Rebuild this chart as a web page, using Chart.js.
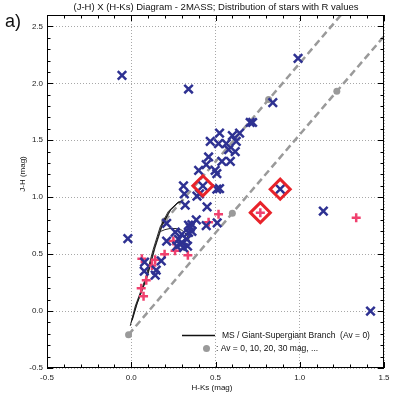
<!DOCTYPE html>
<html lang="en">
<head>
<meta charset="UTF-8">
<title>(J-H) X (H-Ks) Diagram - 2MASS</title>
<script src="https://cdn.jsdelivr.net/npm/chart.js"></script>
<style>
  html, body { margin: 0; padding: 0; background: #fff; }
  #wrap { width: 399px; height: 399px; position: relative; }
</style>
</head>
<body>
<div id="wrap"><canvas id="ccd"></canvas></div>
<script>
// stars, blue crosses (H-Ks, J-H)
const blueX = [-0.055, 0.34, 0.99, 0.84, 0.706, 0.72, 0.524, 0.60, 0.643, 0.623, 0.469, 0.518, 0.564, 0.578, 0.617,
  0.459, 0.538, 0.588, 0.40, 0.445, 0.498, 0.508, 0.31, 0.425, 0.524, 0.508, 0.315, 0.39, 0.405, 0.32, 0.45,
  0.884, 0.51, 0.445, 0.21, 0.386, 0.34, 0.36, 0.35, 0.261, 0.30, 0.34, 0.36, 0.281, 0.30, 0.33, 0.21, 0.29,
  0.27, 0.334, 0.31, 0.178, 0.079, 0.077, 0.148, 0.142, -0.02, 1.14, 1.42];
const blueY = [2.07, 1.95, 2.22, 1.83, 1.656, 1.656, 1.563, 1.54, 1.563, 1.49, 1.49, 1.47, 1.47, 1.417, 1.40,
  1.353, 1.315, 1.315, 1.236, 1.286, 1.236, 1.207, 1.10, 1.10, 1.076, 1.07, 1.03, 1.01, 1.03, 0.93, 0.915,
  1.07, 0.775, 0.75, 0.77, 0.80, 0.755, 0.76, 0.735, 0.694, 0.674, 0.69, 0.70, 0.63, 0.60, 0.63, 0.615, 0.586,
  0.57, 0.57, 0.557, 0.44, 0.43, 0.35, 0.36, 0.315, 0.636, 0.877, 0.0];

// stars, pink plus signs
const pinkX = [0.518, 0.459, 0.766, 1.335, 0.25, 0.26, 0.336, 0.198, 0.142, 0.063, 0.123, 0.089, 0.059, 0.073];
const pinkY = [0.85, 0.78, 0.864, 0.82, 0.615, 0.53, 0.49, 0.50, 0.45, 0.46, 0.40, 0.27, 0.20, 0.13];

// highlighted stars (red diamonds)
const markX = [0.425, 0.884, 0.766];
const markY = [1.10, 1.07, 0.864];

// intrinsic colours, MS / giant-supergiant branch (Av = 0)
const msX = [-0.006, 0.024, 0.083, 0.13, 0.172, 0.22, 0.273, 0.30];
const msY = [-0.13, 0.044, 0.28, 0.54, 0.74, 0.875, 0.95, 0.96];
const giantX = [0.0, 0.03, 0.09, 0.137, 0.18, 0.228, 0.28, 0.305];
const giantY = [-0.10, 0.05, 0.29, 0.55, 0.75, 0.88, 0.955, 0.97];
const superX = [0.006, 0.036, 0.095, 0.142, 0.186, 0.235, 0.285];
const superY = [-0.08, 0.07, 0.30, 0.56, 0.76, 0.89, 0.965];
const dwarfX = [0.175, 0.20, 0.23, 0.27, 0.30, 0.33, 0.35];
const dwarfY = [0.70, 0.715, 0.725, 0.725, 0.71, 0.67, 0.60];

// reddening bands, points at Av = 0, 10, 20, 30 mag
const redLowX = [-0.016, 0.60, 1.22, 1.84];
const redLowY = [-0.207, 0.86, 1.93, 3.0];
const redUpX = [0.198, 0.815, 1.43];
const redUpY = [0.79, 1.857, 2.92];

const xTicks = [-0.5, 0.0, 0.5, 1.0, 1.5];
const yTicks = [-0.5, 0.0, 0.5, 1.0, 1.5, 2.0, 2.5];

const FONT = '"Liberation Sans", Arial, Helvetica, sans-serif';
const BLUE = '#2e3192';
const PINK = '#f0406e';
const RED = '#e8232a';
const GREY = '#9a9a9a';

function pts(xs, ys) { return xs.map((v, i) => ({ x: v, y: ys[i] })); }
function isMajor(v) { return Math.abs(v * 2 - Math.round(v * 2)) < 1e-6; }
function shown(v, list) { return list.some(t => Math.abs(t - v) < 1e-6); }

const lineSet = (xs, ys) => ({
  data: pts(xs, ys), showLine: true, borderColor: '#111', borderWidth: 0.9,
  pointRadius: 0, tension: 0
});
const dashSet = (xs, ys) => ({
  data: pts(xs, ys), showLine: true, borderColor: GREY, borderWidth: 2.5,
  borderDash: [7, 4], pointRadius: 3.5, pointBackgroundColor: GREY,
  pointBorderWidth: 0
});

// frame, inward tick marks, titles and the small legend
const decor = {
  id: 'decor',
  afterDraw(chart) {
    const { ctx, chartArea: a, scales: { x, y } } = chart;
    ctx.save();
    ctx.strokeStyle = '#000';
    ctx.lineWidth = 1;
    ctx.strokeRect(a.left + 0.5, a.top + 0.5, a.right - a.left - 1, a.bottom - a.top - 1);
    ctx.beginPath();
    x.ticks.forEach(t => {
      const px = Math.round(x.getPixelForValue(t.value)) + 0.5;
      const len = isMajor(t.value) ? 6 : 3.5;
      ctx.moveTo(px, a.bottom); ctx.lineTo(px, a.bottom - len);
      ctx.moveTo(px, a.top); ctx.lineTo(px, a.top + len);
    });
    y.ticks.forEach(t => {
      const py = Math.round(y.getPixelForValue(t.value)) + 0.5;
      const len = isMajor(t.value) ? 6 : 3.5;
      ctx.moveTo(a.left, py); ctx.lineTo(a.left + len, py);
      ctx.moveTo(a.right, py); ctx.lineTo(a.right - len, py);
    });
    ctx.stroke();

    ctx.fillStyle = '#111';
    ctx.textBaseline = 'middle';
    ctx.textAlign = 'center';
    ctx.font = '9.5px ' + FONT;
    ctx.fillText('(J-H) X (H-Ks) Diagram - 2MASS; Distribution of stars with R values', 216, 7);
    ctx.font = '8px ' + FONT;
    ctx.fillText('H-Ks (mag)', 212, 388);
    ctx.save();
    ctx.translate(23, 174);
    ctx.rotate(-Math.PI / 2);
    ctx.fillText('J-H (mag)', 0, 0);
    ctx.restore();
    ctx.textAlign = 'left';
    ctx.font = '18px ' + FONT;
    ctx.fillText('a)', 5, 22);

    // legend
    ctx.strokeStyle = '#111';
    ctx.lineWidth = 1.5;
    ctx.beginPath();
    ctx.moveTo(182, 335.5); ctx.lineTo(215, 335.5);
    ctx.stroke();
    ctx.fillStyle = GREY;
    ctx.beginPath();
    ctx.arc(206.5, 348.5, 3.5, 0, Math.PI * 2);
    ctx.fill();
    ctx.fillStyle = '#111';
    ctx.font = '8.5px ' + FONT;
    ctx.fillText('MS / Giant-Supergiant Branch  (Av = 0)', 222, 335.5);
    ctx.fillText(': Av = 0, 10, 20, 30 mag, ...', 216, 348.5);
    ctx.restore();
  }
};

new Chart(document.getElementById('ccd'), {
  type: 'scatter',
  data: {
    datasets: [
      { data: pts(markX, markY), pointStyle: 'rectRot', pointRadius: 10, pointBorderWidth: 3,
        pointBorderColor: RED, pointBackgroundColor: 'rgba(0,0,0,0)' },
      { data: pts(blueX, blueY), pointStyle: 'crossRot', pointRadius: 6, pointBorderWidth: 2.5,
        pointBorderColor: BLUE },
      { data: pts(pinkX, pinkY), pointStyle: 'cross', pointRadius: 4.5, pointBorderWidth: 2.5,
        pointBorderColor: PINK },
      lineSet(msX, msY),
      lineSet(giantX, giantY),
      lineSet(superX, superY),
      lineSet(dwarfX, dwarfY),
      dashSet(redLowX, redLowY),
      dashSet(redUpX, redUpY)
    ]
  },
  options: {
    responsive: true,
    maintainAspectRatio: false,
    animation: false,
    events: [],
    layout: { padding: { top: 15, right: 15, left: 0, bottom: 0 } },
    plugins: { legend: { display: false }, tooltip: { enabled: false } },
    scales: {
      x: {
        type: 'linear', min: -0.5, max: 1.5,
        afterFit: s => { s.height = 31; },
        border: { display: false, dash: [1, 2] },
        grid: {
          drawTicks: false,
          color: c => shown(c.tick.value, xTicks) ? '#a8a8a8' : 'rgba(0,0,0,0)'
        },
        ticks: {
          stepSize: 0.1, autoSkip: false, maxRotation: 0, padding: 5,
          color: '#222', font: { family: FONT, size: 8 },
          callback: v => shown(v, xTicks) ? v.toFixed(1) : ''
        }
      },
      y: {
        type: 'linear', min: -0.5, max: 2.6,
        afterFit: s => { s.width = 47; },
        border: { display: false, dash: [1, 2] },
        grid: {
          drawTicks: false,
          color: c => shown(c.tick.value, yTicks) ? '#a8a8a8' : 'rgba(0,0,0,0)'
        },
        ticks: {
          stepSize: 0.1, autoSkip: false, padding: 4,
          color: '#222', font: { family: FONT, size: 8 },
          callback: v => shown(v, yTicks) ? v.toFixed(1) : ''
        }
      }
    }
  },
  plugins: [decor]
});
</script>
</body>
</html>
